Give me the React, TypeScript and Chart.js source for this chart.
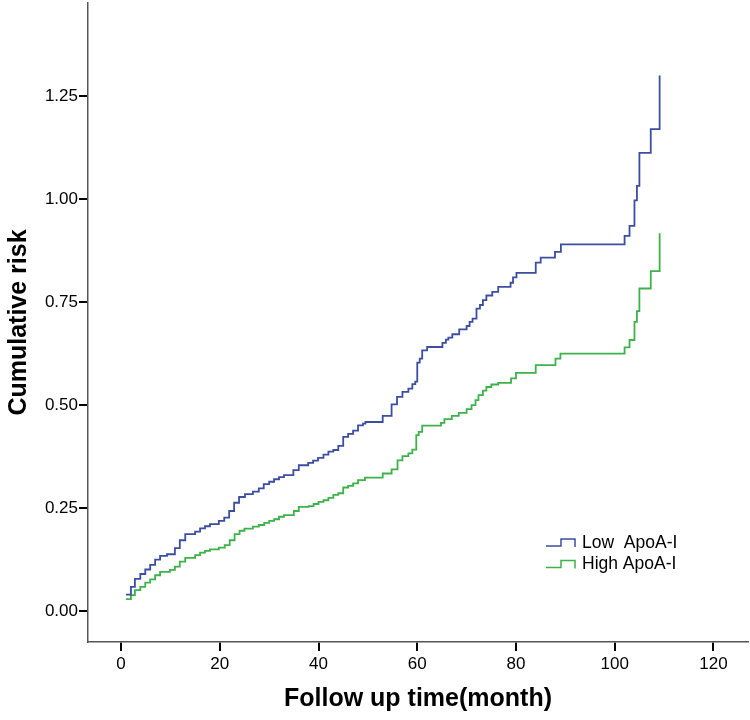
import { useEffect, useRef } from 'react';
import Chart from 'chart.js/auto';

// event times (month) and cumulative risk after each event
const lowTime = [
  1.0, 2.0, 2.8, 3.9, 4.9, 5.9, 6.9, 7.9, 9.3, 10.9, 11.9, 13.0, 15.0, 16.0, 17.0, 18.0,
  19.8, 20.9, 21.9, 22.9, 23.9, 25.1, 26.7, 27.9, 28.9, 30.0, 31.0, 32.0, 33.0, 34.9, 36.0,
  37.9, 38.9, 39.9, 41.0, 42.0, 43.0, 44.0, 45.0, 46.0, 47.0, 48.0, 49.0, 49.5, 53.0, 54.8,
  55.9, 57.0, 58.2, 59.0, 59.6, 60.0, 60.5, 61.0, 62.0, 65.1, 65.8, 66.3, 67.1, 68.5, 70.0,
  70.6, 71.2, 72.0, 72.7, 73.3, 74.0, 75.2, 76.4, 78.9, 79.4, 80.1, 84.0, 85.0, 87.9, 89.1,
  102.0, 103.0, 104.0, 104.5, 105.0, 107.3, 109.1,
];
const lowRisk = [
  0.04, 0.059, 0.078, 0.09, 0.101, 0.112, 0.125, 0.134, 0.138, 0.153, 0.172, 0.187, 0.193, 0.201, 0.206, 0.211,
  0.219, 0.227, 0.243, 0.263, 0.277, 0.284, 0.29, 0.298, 0.308, 0.314, 0.32, 0.325, 0.33, 0.342, 0.354,
  0.36, 0.365, 0.372, 0.38, 0.387, 0.391, 0.401, 0.423, 0.43, 0.438, 0.451, 0.455, 0.459, 0.474, 0.502,
  0.52, 0.532, 0.54, 0.551, 0.557, 0.603, 0.613, 0.633, 0.641, 0.651, 0.659, 0.664, 0.672, 0.684, 0.692,
  0.702, 0.71, 0.734, 0.743, 0.755, 0.766, 0.775, 0.787, 0.797, 0.81, 0.821, 0.846, 0.858, 0.872, 0.89,
  0.911, 0.935, 0.997, 1.032, 1.112, 1.17, 1.3,
];

const highTime = [
  1.0, 2.0, 2.8, 3.9, 4.9, 5.9, 6.9, 7.9, 9.9, 10.9, 11.9, 13.0, 15.0, 16.0, 17.0, 18.0,
  19.8, 21.0, 22.0, 23.0, 24.0, 25.0, 26.7, 27.9, 29.0, 30.0, 31.0, 32.0, 33.0, 35.0, 36.0,
  38.0, 39.0, 40.0, 41.0, 42.0, 43.0, 44.0, 45.0, 46.0, 47.0, 48.0, 49.4, 53.0, 54.8, 56.0,
  57.0, 58.2, 59.0, 59.8, 60.3, 61.0, 64.8, 65.5, 67.0, 68.4, 70.0, 71.0, 71.8, 72.4, 73.3,
  74.0, 75.0, 76.4, 79.0, 80.0, 84.0, 88.0, 89.0, 102.0, 103.0, 104.0, 104.5, 105.0, 107.3, 109.1,
];
const highRisk = [
  0.029, 0.039, 0.051, 0.059, 0.069, 0.077, 0.087, 0.095, 0.1, 0.108, 0.12, 0.129, 0.136, 0.142, 0.146, 0.15,
  0.154, 0.16, 0.172, 0.187, 0.195, 0.2, 0.205, 0.209, 0.214, 0.219, 0.223, 0.229, 0.233, 0.243, 0.253,
  0.255, 0.26, 0.265, 0.269, 0.275, 0.282, 0.286, 0.3, 0.304, 0.31, 0.318, 0.324, 0.334, 0.344, 0.366,
  0.376, 0.383, 0.392, 0.427, 0.435, 0.45, 0.457, 0.466, 0.474, 0.481, 0.49, 0.5, 0.512, 0.524, 0.535,
  0.544, 0.55, 0.554, 0.565, 0.578, 0.597, 0.613, 0.625, 0.64, 0.658, 0.702, 0.728, 0.783, 0.825, 0.917,
];

const seriesNames = ['Low  ApoA-I', 'High ApoA-I'];
const seriesColors = ['#3b4ea0', '#3db24b'];
const xTicks = [0, 20, 40, 60, 80, 100, 120];
const yTicks = [0, 0.25, 0.5, 0.75, 1.0, 1.25];

const FONT = '"Liberation Sans", Arial, sans-serif';

// legend drawn inside the plot, with a small step-shaped key like SPSS
const stepLegend = {
  id: 'stepLegend',
  afterDraw(chart: Chart) {
    const ctx = chart.ctx;
    const x0 = 546;
    const y0 = 546;
    chart.data.datasets.forEach((ds, i) => {
      const y = y0 + i * 21.5;
      ctx.save();
      ctx.strokeStyle = ds.borderColor as string;
      ctx.lineWidth = 1.5;
      ctx.beginPath();
      ctx.moveTo(x0, y);
      ctx.lineTo(x0 + 15, y);
      ctx.lineTo(x0 + 15, y - 7);
      ctx.lineTo(x0 + 29, y - 7);
      ctx.lineTo(x0 + 29, y + 1);
      ctx.stroke();
      ctx.fillStyle = '#000';
      ctx.font = `17.5px ${FONT}`;
      ctx.textBaseline = 'middle';
      ctx.fillText(ds.label as string, x0 + 36, y - 3);
      ctx.restore();
    });
  },
};

const App = () => {
  const chartRef = useRef<HTMLCanvasElement>(null);
  const chartInstance = useRef<Chart | null>(null);

  useEffect(() => {
    document.body.style.margin = '0';
    if (!chartRef.current) return;
    if (chartInstance.current) chartInstance.current.destroy();

    const tickGrid = {
      display: true,
      drawOnChartArea: false,
      drawTicks: true,
      tickLength: 9,
      color: '#000',
      lineWidth: 2,
    };
    const axisBorder = { display: true, color: '#555', width: 1.5 };

    chartInstance.current = new Chart(chartRef.current, {
      type: 'line',
      data: {
        datasets: [
          {
            label: seriesNames[0],
            data: lowTime.map((t, i) => ({ x: t, y: lowRisk[i] })),
            borderColor: seriesColors[0],
            borderWidth: 1.8,
            stepped: true,
            pointRadius: 0,
            fill: false,
          },
          {
            label: seriesNames[1],
            data: highTime.map((t, i) => ({ x: t, y: highRisk[i] })),
            borderColor: seriesColors[1],
            borderWidth: 1.8,
            stepped: true,
            pointRadius: 0,
            fill: false,
          },
        ],
      },
      options: {
        animation: false,
        responsive: true,
        maintainAspectRatio: false,
        layout: { padding: { top: 3, right: 2, left: 0, bottom: 0 } },
        plugins: {
          legend: { display: false },
          tooltip: { enabled: false },
        },
        scales: {
          x: {
            type: 'linear',
            min: -6.7,
            max: 127,
            afterBuildTicks: (s) => {
              s.ticks = xTicks.map((value) => ({ value }));
            },
            afterFit: (s) => {
              s.height = 78;
              s.paddingLeft = 0;
              s.paddingRight = 0;
            },
            grid: tickGrid,
            border: axisBorder,
            ticks: {
              font: { size: 17, family: FONT },
              color: '#000',
              padding: 3,
              maxRotation: 0,
            },
            title: {
              display: true,
              text: 'Follow up time(month)',
              color: '#000',
              font: { size: 25, weight: 'bold', family: FONT },
              padding: { top: 4, bottom: 6 },
            },
          },
          y: {
            type: 'linear',
            min: -0.075,
            max: 1.476,
            afterBuildTicks: (s) => {
              s.ticks = yTicks.map((value) => ({ value }));
            },
            afterFit: (s) => {
              s.width = 88;
              s.paddingTop = 0;
              s.paddingBottom = 0;
            },
            grid: tickGrid,
            border: axisBorder,
            ticks: {
              font: { size: 17, family: FONT },
              color: '#000',
              padding: 1,
              callback: (v) => Number(v).toFixed(2),
            },
            title: {
              display: true,
              text: 'Cumulative risk',
              color: '#000',
              font: { size: 25, weight: 'bold', family: FONT },
              padding: { top: 4, bottom: 4 },
            },
          },
        },
      },
      plugins: [stepLegend],
    });

    return () => {
      if (chartInstance.current) {
        chartInstance.current.destroy();
        chartInstance.current = null;
      }
    };
  }, []);

  return (
    <div style={{ width: 750, height: 720, position: 'relative', background: '#fff' }}>
      <canvas ref={chartRef} />
    </div>
  );
};

export default App;
